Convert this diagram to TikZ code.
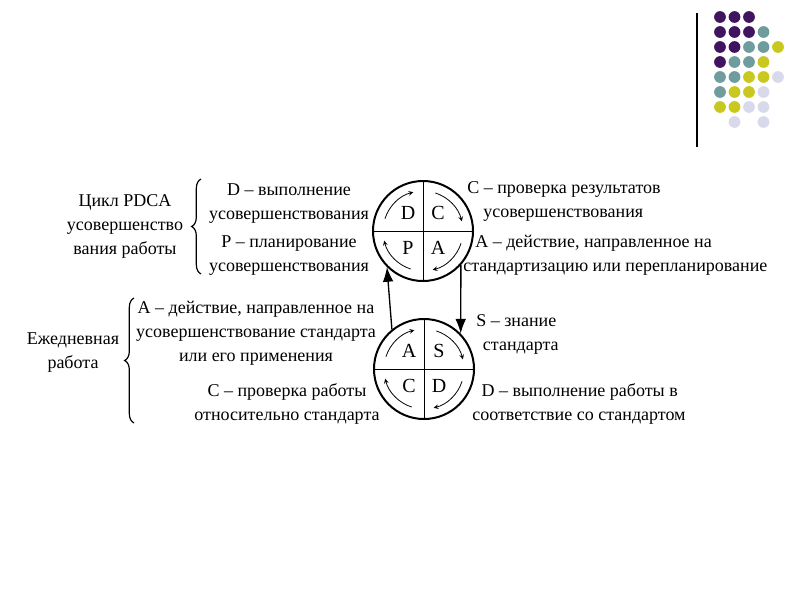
\documentclass[tikz,border=0pt]{standalone}
\usepackage{fontspec}
\setmainfont{Liberation Serif}
\usetikzlibrary{arrows,arrows.meta,positioning,calc,decorations.pathreplacing}

\definecolor{dotpurple}{HTML}{40145F}
\definecolor{dotteal}{HTML}{6F9C9C}
\definecolor{dotyellow}{HTML}{C8C81E}
\definecolor{dotlilac}{HTML}{D9D9EC}

\begin{document}
\begin{tikzpicture}[
    x=0.75pt, y=-0.75pt,
    txt/.style={align=center, inner sep=0pt, font=\fontsize{13.5pt}{18pt}\selectfont},
    rtxt/.style={txt, align=left, anchor=west},
    wheel/.style={circle, draw, line width=1.5pt, minimum size=75pt, inner sep=0pt},
    letter/.style={inner sep=0pt, font=\fontsize{15pt}{16pt}\selectfont},
    turn/.style={->, >=stealth, line width=0.6pt},
    link/.style={-{Latex[length=11pt,width=8pt]}, line width=1pt},
    bracket/.style={decorate, decoration={brace, amplitude=7pt}, line width=0.9pt}
]
\useasboundingbox (0,0) rectangle (800,600);

% Corner decoration
\draw[line width=0.8pt] (697,13) -- (697,147);
\foreach \r/\c/\col in {0/0/dotpurple,0/1/dotpurple,0/2/dotpurple,
    1/0/dotpurple,1/1/dotpurple,1/2/dotpurple,1/3/dotteal,
    2/0/dotpurple,2/1/dotpurple,2/2/dotteal,2/3/dotteal,2/4/dotyellow,
    3/0/dotpurple,3/1/dotteal,3/2/dotteal,3/3/dotyellow,
    4/0/dotteal,4/1/dotteal,4/2/dotyellow,4/3/dotyellow,4/4/dotlilac,
    5/0/dotteal,5/1/dotyellow,5/2/dotyellow,5/3/dotlilac,
    6/0/dotyellow,6/1/dotyellow,6/2/dotlilac,6/3/dotlilac,
    7/1/dotlilac,7/3/dotlilac}
    \fill[\col] (720+14.5*\c, 17+15*\r) circle (4.4pt);

% PDCA wheel
\node[wheel] (pdca) at (423,231) {};
\draw[line width=0.7pt] (pdca.north) -- (pdca.south);
\draw[line width=0.7pt] (pdca.west) -- (pdca.east);
\node[letter] (pd) at ($(pdca)+(-15,-18)$) {D};
\node[letter] (pc) at ($(pdca)+(15,-18)$) {C};
\node[letter] (pp) at ($(pdca)+(-15,17)$) {P};
\node[letter] (pa) at ($(pdca)+(15,17)$) {A};
\foreach \a in {162,72,-18,-108}
    \draw[turn] (pdca.center) ++(\a:30pt) arc[start angle=\a, end angle=\a-58, radius=30pt];

% SDCA wheel
\node[wheel] (sdca) at (424,369) {};
\draw[line width=0.7pt] (sdca.north) -- (sdca.south);
\draw[line width=0.7pt] (sdca.west) -- (sdca.east);
\node[letter] (sa) at ($(sdca)+(-15,-18)$) {A};
\node[letter] (ss) at ($(sdca)+(15,-18)$) {S};
\node[letter] (sc) at ($(sdca)+(-15,17)$) {C};
\node[letter] (sd) at ($(sdca)+(15,17)$) {D};
\foreach \a in {162,72,-18,-108}
    \draw[turn] (sdca.center) ++(\a:30pt) arc[start angle=\a, end angle=\a-58, radius=30pt];

% Links between wheels
\draw[link] (sdca.129) -- (pdca.225);
\draw[link] (pdca.-42) -- (sdca.44);

% Upper texts
\node[txt] (cycle) at (125,226) {Цикл PDCA\\усовершенство\\вания работы};
\draw[bracket] (201,274) -- (201,179);
\node[txt] (plando) at (289,204) {D – выполнение\\усовершенствования};
\node[txt] (planpl) at (289,256) {P – планирование\\усовершенствования};
\node[rtxt] (plancheck) at (467,201) {C – проверка результатов\\\hspace*{12pt}усовершенствования};
\node[rtxt] (planact) at (463,255) {\hspace*{9pt}A – действие, направленное на\\стандартизацию или перепланирование};

% Lower texts
\node[txt] (daily) at (73,353) {Ежедневная\\работа};
\draw[bracket] (134,423) -- (134,298);
\node[txt] (dailyact) at (256,333) {A – действие, направленное на\\усовершенствование стандарта\\или его применения};
\node[txt] (dailycheck) at (287,404) {C – проверка работы\\относительно стандарта};
\node[rtxt] (dailystd) at (476,334) {S – знание\\\hspace*{5pt}стандарта};
\node[rtxt] (dailydo) at (472,404) {\hspace*{7pt}D – выполнение работы в\\соответствие со стандартом};

\end{tikzpicture}
\end{document}
